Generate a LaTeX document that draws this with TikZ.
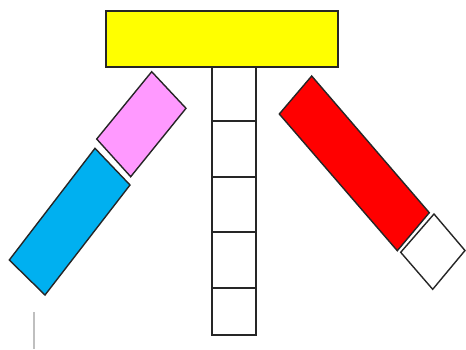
\documentclass[tikz,border=0pt]{standalone}
\begin{document}
\begin{tikzpicture}[x=1pt,y=-1pt,
  part/.style={draw=black!85,line width=1.4pt,line join=miter}]
\useasboundingbox (0,0) rectangle (466,349);
% yellow bar
\filldraw[part,fill={rgb,255:red,255;green,255;blue,0}] (106,11) rectangle (338,67);
% column of squares
\foreach \a/\b in {67/121,121/177,177/232,232/288,288/335}{
  \draw[part,fill=white] (212,\a) rectangle (256,\b);
}
% pink
\filldraw[part,fill={rgb,255:red,255;green,153;blue,255}] (151.7,71.7) -- (186,108.3) -- (130.7,176.7) -- (96.7,139) -- cycle;
% blue
\filldraw[part,fill={rgb,255:red,0;green,176;blue,240}] (95,148.3) -- (130,185) -- (45,295) -- (9.3,260) -- cycle;
% red
\filldraw[part,fill=red] (311.7,76) -- (429.3,212.7) -- (397.3,250.7) -- (279.3,114) -- cycle;
% white square
\filldraw[part,fill=white] (434,214) -- (465,250.5) -- (432.7,289.3) -- (400.7,252.3) -- cycle;
% grey mark
\draw[black!25,line width=1.2pt] (34,312) -- (34,349);
\end{tikzpicture}
\end{document}
